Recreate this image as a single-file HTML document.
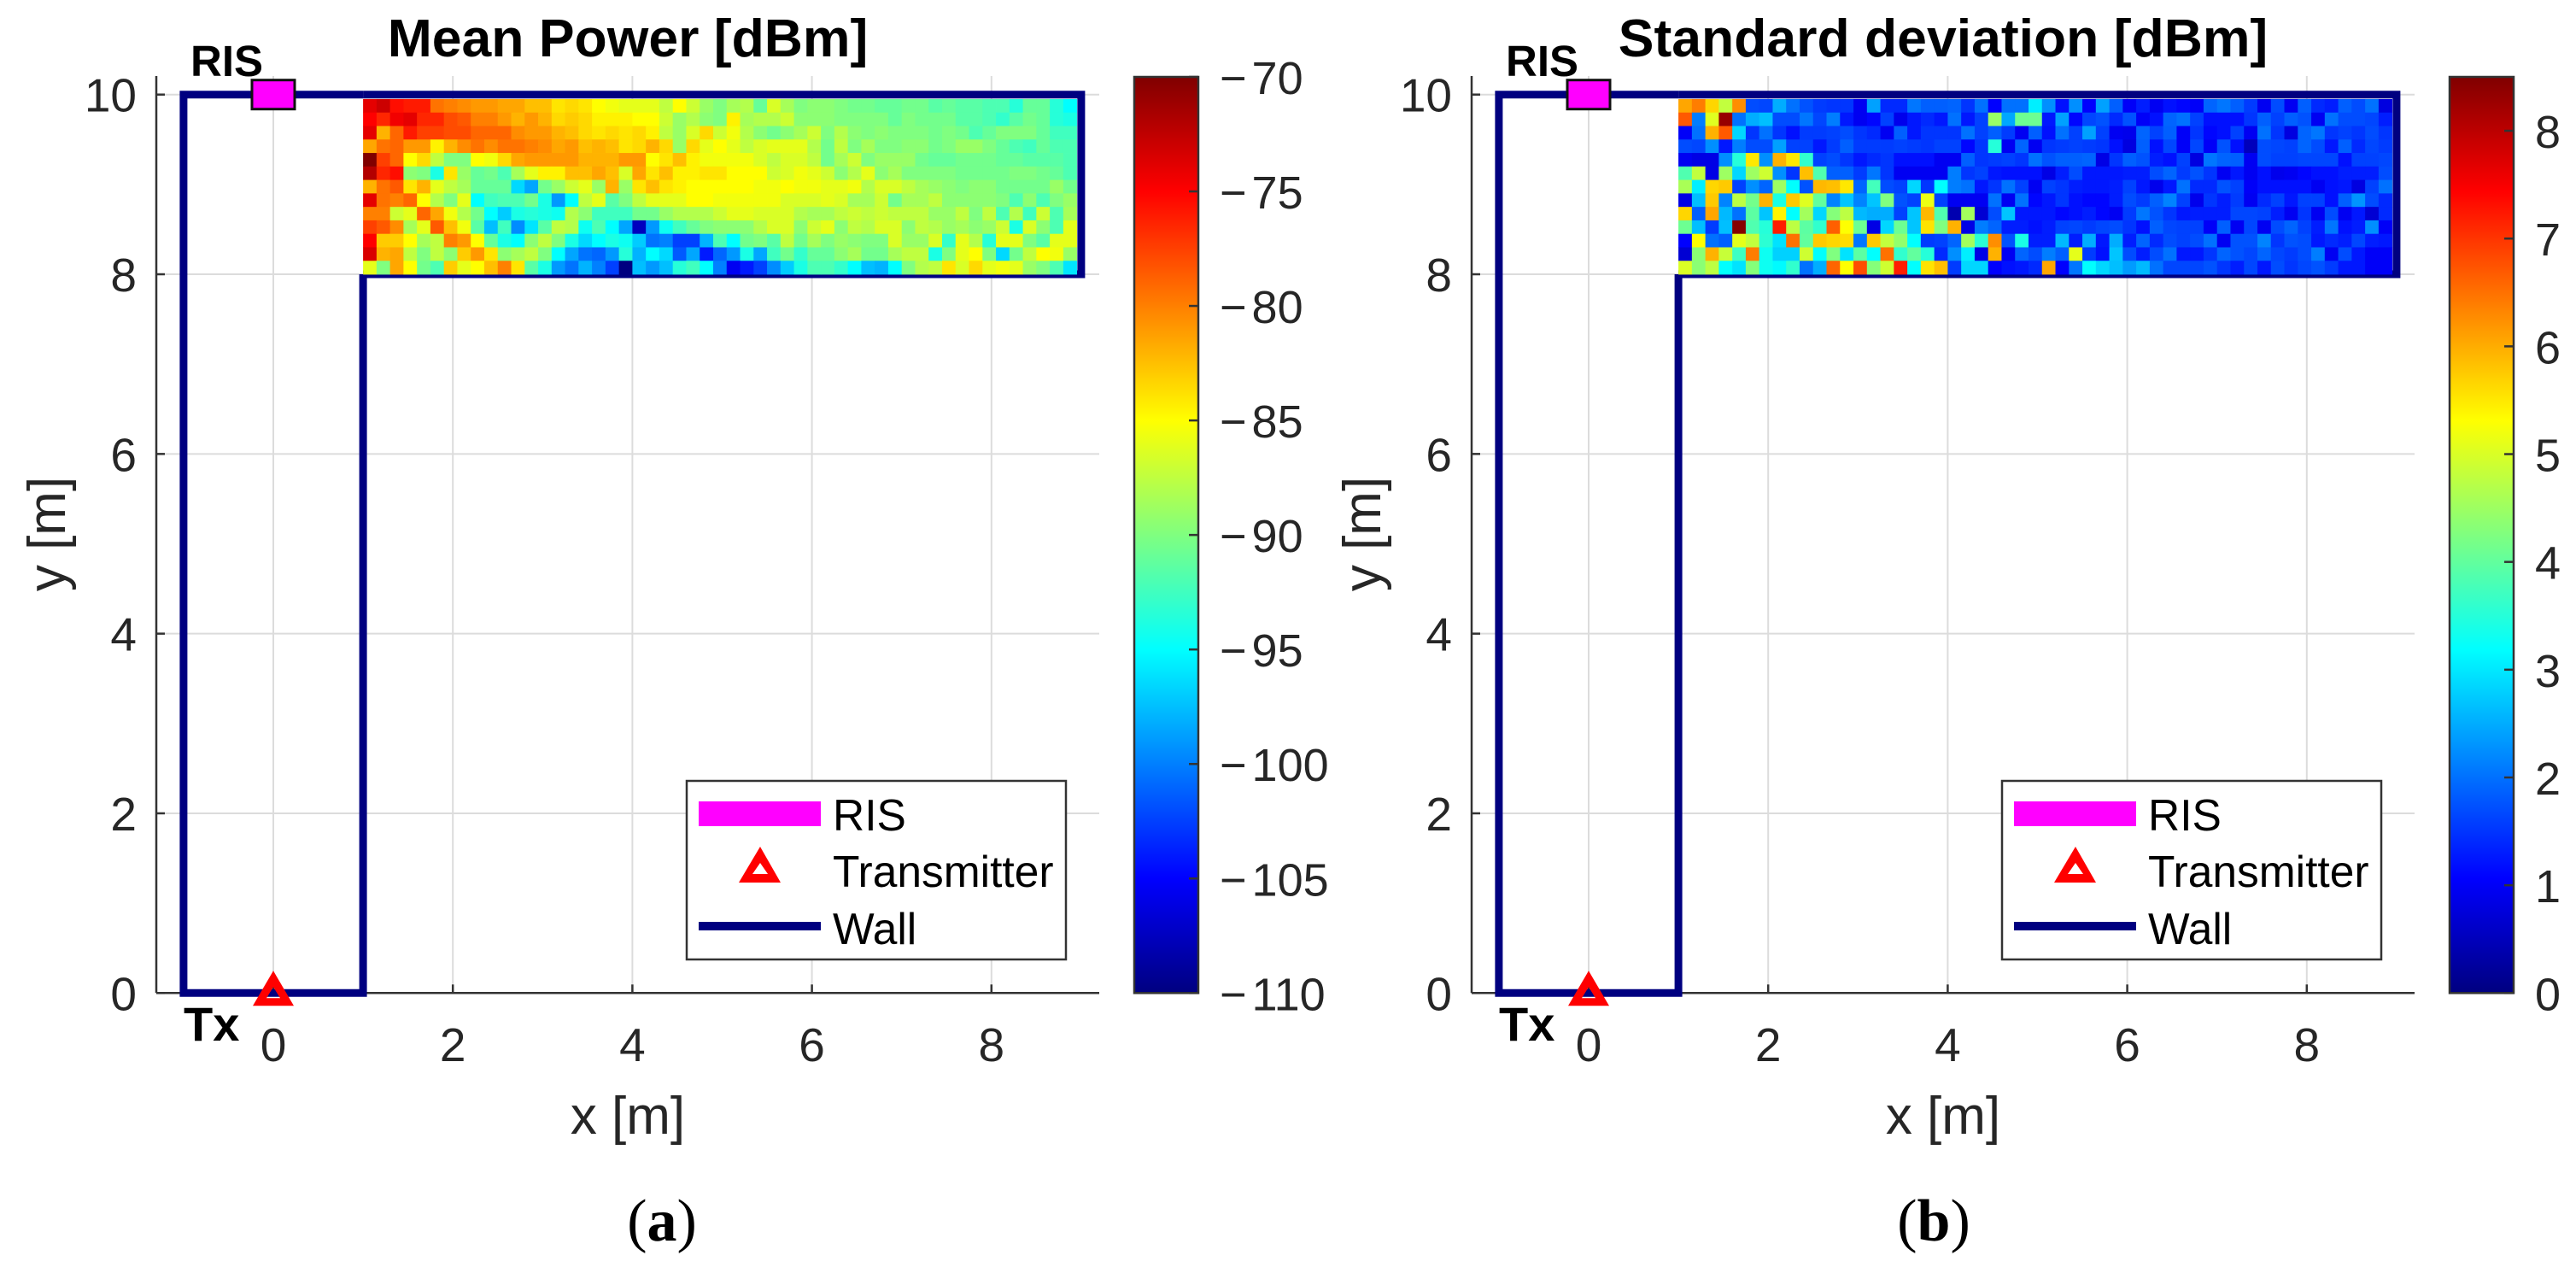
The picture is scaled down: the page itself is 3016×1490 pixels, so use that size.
<!DOCTYPE html>
<html lang="en">
<head>
<meta charset="utf-8">
<title>Mean Power and Standard Deviation Maps</title>
<style>
html,body{margin:0;padding:0;background:#fff;}
svg{display:block;font-family:"Liberation Sans",sans-serif;}
.tick{font-size:55px;fill:#262626;}
.cbtick{font-size:54px;fill:#262626;}
.lab{font-size:62px;fill:#262626;}
.ttl{font-size:62.5px;font-weight:bold;fill:#000;}
.ann{font-weight:bold;fill:#000;}
.leg{font-size:51.5px;fill:#000;}
.cap{font-family:"Liberation Serif",serif;font-size:70px;fill:#000;}
</style>
</head>
<body>
<svg id="fig" xmlns="http://www.w3.org/2000/svg" width="3016" height="1490" viewBox="0 0 3016 1490">
<defs>
<linearGradient id="jetGrad" x1="0" y1="1" x2="0" y2="0">
<stop offset="0" stop-color="#000080"/><stop offset="0.125" stop-color="#0000ff"/><stop offset="0.375" stop-color="#00ffff"/><stop offset="0.625" stop-color="#ffff00"/><stop offset="0.875" stop-color="#ff0000"/><stop offset="1" stop-color="#800000"/>
</linearGradient>
</defs>
<rect x="0" y="0" width="3016" height="1490" fill="#fff"/>
<g id="panelA"></g>
<g id="panelB" transform="translate(1540,0)"></g>

<g>
<text class="ttl" x="735" y="66" text-anchor="middle">Mean Power [dBm]</text>
<text class="lab" x="735" y="1327" text-anchor="middle">x [m]</text>
<text class="lab" transform="translate(76,625) rotate(-90)" text-anchor="middle">y [m]</text>
<text class="ann" font-size="51" x="223" y="89">RIS</text>
<text class="ann" font-size="56" x="215" y="1218">Tx</text>
<g>
<rect x="804" y="914" width="444" height="209" fill="#fff" stroke="#333" stroke-width="2.5"/>
<rect x="818" y="938" width="143" height="29" fill="#ff00ff"/>
<path d="M890 991L914 1033H865ZM890 1010L881 1023H899Z" fill="#ff0000" fill-rule="evenodd"/>
<rect x="818" y="1079" width="143" height="10" fill="#000080"/>
<text class="leg" x="975" y="972">RIS</text>
<text class="leg" x="975" y="1038">Transmitter</text>
<text class="leg" x="975" y="1105">Wall</text>
</g>
<text class="cap" x="775" y="1452" text-anchor="middle">(<tspan font-weight="bold">a</tspan>)</text>
</g>

<g transform="translate(1540,0)">
<text class="ttl" x="735" y="66" text-anchor="middle">Standard deviation [dBm]</text>
<text class="lab" x="735" y="1327" text-anchor="middle">x [m]</text>
<text class="lab" transform="translate(76,625) rotate(-90)" text-anchor="middle">y [m]</text>
<text class="ann" font-size="51" x="223" y="89">RIS</text>
<text class="ann" font-size="56" x="215" y="1218">Tx</text>
<g>
<rect x="804" y="914" width="444" height="209" fill="#fff" stroke="#333" stroke-width="2.5"/>
<rect x="818" y="938" width="143" height="29" fill="#ff00ff"/>
<path d="M890 991L914 1033H865ZM890 1010L881 1023H899Z" fill="#ff0000" fill-rule="evenodd"/>
<rect x="818" y="1079" width="143" height="10" fill="#000080"/>
<text class="leg" x="975" y="972">RIS</text>
<text class="leg" x="975" y="1038">Transmitter</text>
<text class="leg" x="975" y="1105">Wall</text>
</g>
<text class="cap" x="724" y="1452" text-anchor="middle">(<tspan font-weight="bold">b</tspan>)</text>
</g>
</svg>
<script>
const xTicks = [0, 2, 4, 6, 8];
const yTicks = [0, 2, 4, 6, 8, 10];
const meanColorbarTicks = [-70, -75, -80, -85, -90, -95, -100, -105, -110];
const stdColorbarTicks = [0, 1, 2, 3, 4, 5, 6, 7, 8];
const meanColorRange = [-110, -70];
const stdColorRange = [0, 8.5];
const wallX = [1, 1, -1, -1, 1];
const wallY = [8, 0, 0, 10, 10];
const heatmapX0 = 1;
const heatmapY0 = 8;
const cellStep = 0.15;

const meanPowerRows = [
[-74,-73,-75.5,-76,-76,-79.5,-80,-80.5,-81,-81,-81.5,-81.5,-82.5,-82.5,-84,-83.5,-84,-85,-85.5,-86,-86,-86,-87.5,-85,-87,-89,-90,-88.5,-88,-91,-86.5,-88.5,-90,-89.5,-89.5,-90,-90.5,-90.5,-91,-91,-90.5,-90.5,-91.5,-91,-91.5,-91.5,-92,-92,-93.5,-91,-91,-93.5,-95],
[-75,-76.5,-74.5,-74,-76.5,-76.5,-78,-78.5,-80,-80,-81,-82,-81,-82,-83.5,-83,-83.5,-84.5,-84.5,-84.5,-85,-85,-87,-89,-88,-89.5,-90,-84.5,-88.5,-88,-88,-87,-89.5,-89.5,-89.5,-90,-90,-90,-90,-91,-90,-90.5,-90.5,-90.5,-91.5,-91.5,-92,-93,-91.5,-90.5,-91,-93.5,-94],
[-74,-82,-79,-76,-77.5,-77.5,-78,-78,-79,-79,-79,-80.5,-81,-81,-82,-82.5,-83.5,-84,-83.5,-84,-83.5,-84.5,-87.5,-89,-86.5,-83.5,-87,-85.5,-88,-89.5,-90.5,-89.5,-88.5,-87,-90,-88,-89.5,-90,-89.5,-90,-90,-90,-90.5,-90,-90.5,-92,-91,-90,-90,-90,-91,-92.5,-92.5],
[-81.5,-79.5,-79,-81,-81,-84.5,-82,-80.5,-79.5,-80.5,-79.5,-79.5,-80,-80.5,-81.5,-81,-82.5,-82,-82.5,-84,-83.5,-82,-83.5,-89,-83.5,-86,-85,-86,-87.5,-86.5,-86,-86,-86,-88,-90.5,-87.5,-90,-88.5,-90,-90,-89.5,-89.5,-90.5,-90,-89,-89,-90,-91,-92,-92.5,-91,-92,-92],
[-70,-77.5,-79,-85,-83.5,-87.5,-90,-90,-85,-85.5,-83.5,-81.5,-81,-81,-81,-81,-82,-82,-82,-81,-81,-85,-84,-82.5,-84.5,-85.5,-85.5,-85.5,-85.5,-86.5,-87.5,-86.5,-86.5,-87.5,-90.5,-88.5,-87,-90,-89,-89,-89,-90.5,-91,-91,-90.5,-90.5,-90.5,-91,-91,-91.5,-91.5,-91.5,-92],
[-72,-76.5,-75.5,-89.5,-90,-94,-84,-89,-91,-90.5,-92,-88.5,-86,-84.5,-84.5,-82.5,-82.5,-81.5,-82.5,-86.5,-81.5,-84,-82.5,-84.5,-84.5,-84,-84,-85,-85,-85,-87,-86.5,-85.5,-86,-87,-89.5,-88,-86,-89.5,-88.5,-90,-90,-90,-90,-90.5,-90.5,-90.5,-90.5,-90,-90,-90.5,-91,-92],
[-82,-79.5,-78.5,-84,-82,-86,-87.5,-88.5,-91,-91,-91,-96.5,-98.5,-90.5,-89,-87,-86,-89,-82,-89,-84,-82.5,-84,-84.5,-85,-85,-85,-85,-85,-85.5,-85.5,-85,-85.5,-85.5,-86,-86,-85.5,-88,-86.5,-86.5,-87.5,-88.5,-89,-89.5,-90,-89.5,-89.5,-90.5,-90.5,-90.5,-90.5,-89,-90.5],
[-74,-79.5,-80,-79,-85,-88,-90,-86,-95,-92.5,-92,-92,-90.5,-94,-99,-95,-87.5,-86,-91.5,-90,-87.5,-86,-86,-86,-85,-85,-85.5,-85.5,-85.5,-85.5,-85.5,-86.5,-86.5,-86.5,-86,-86.5,-88.5,-88.5,-87,-90.5,-88.5,-88.5,-87.5,-89.5,-89.5,-89.5,-89.5,-90,-92,-89.5,-92,-90,-89],
[-80,-80,-87,-86,-79,-81.5,-85.5,-88,-90.5,-95,-97,-94,-93.5,-94,-94.5,-88,-89.5,-92.5,-92.5,-92.5,-90.5,-90.5,-89,-88,-88,-88,-87,-86,-86,-86.5,-86.5,-86.5,-88,-88.5,-88.5,-87.5,-87,-87.5,-87,-87.5,-87.5,-87.5,-89,-89,-87.5,-90,-87.5,-92,-88,-92.5,-87,-92,-88.5],
[-77.5,-78.5,-80.5,-88.5,-86,-78.5,-82.5,-85.5,-91.5,-97.5,-92.5,-99.5,-96,-91.5,-87.5,-88,-94.5,-92,-95,-98.5,-107.5,-99,-94.5,-92.5,-91,-90,-89.5,-89.5,-89.5,-88,-86.5,-86.5,-89.5,-87,-86,-89.5,-87.5,-88,-86.5,-86.5,-89.5,-87.5,-88,-89,-88.5,-89.5,-89,-87,-94,-86.5,-89.5,-92,-86],
[-75,-83,-83,-85,-88.5,-87.5,-80,-81,-85,-91,-94,-95,-89.5,-87.5,-90,-94,-96.5,-95,-94,-94.5,-97,-100.5,-100,-102.5,-102.5,-98,-92,-95,-90.5,-90,-91.5,-87.5,-90.5,-88.5,-90,-89,-89.5,-90,-90,-86.5,-89,-89,-86.5,-93,-86,-88,-93.5,-86,-86,-90,-91.5,-86,-86],
[-73.5,-82,-81.5,-87.5,-90,-87.5,-89.5,-83,-81,-84,-89.5,-88.5,-87.5,-90,-95,-98.5,-100.5,-101,-99,-93.5,-98,-95,-96.5,-101.5,-98.5,-104,-101,-99,-94,-98.5,-92.5,-90.5,-93,-91,-91,-89.5,-88.5,-90.5,-90.5,-88.5,-87.5,-87.5,-94,-90,-86,-85,-90,-96.5,-90.5,-87.5,-85,-85.5,-89],
[-86,-90,-81.5,-85,-90.5,-92,-83,-86,-85,-82.5,-80,-84,-91.5,-94,-99,-100.5,-98,-100,-102.5,-110,-97.5,-99,-97.5,-93.5,-92.5,-95,-100,-105.5,-104,-102.5,-99.5,-97,-94,-92,-92,-93,-95,-97.5,-98,-95,-90,-88,-87.5,-84,-86.5,-83.5,-86,-85.5,-86,-89,-90,-92,-96]
];

const stdDevRows = [
[6.05,6.4,5.65,4.8,6.25,1.7,1.65,2.5,2,1.75,1.55,1.5,1.5,.95,2.4,1.4,1.4,2.05,1.85,1.85,1.9,1.5,2,1.05,2,2,3.05,2.25,1.2,2.25,1.05,2.4,1.85,1,1.3,.95,1.2,1.1,1,1.9,2.05,1.85,1.55,.95,1.7,.95,1.85,1.4,1.3,1.85,1.7,2,.8],
[6.7,2.1,5.05,8.3,2,2.5,2.65,1.7,1.7,2.05,1.65,2.1,1.25,.95,1.1,1.6,.9,1.25,1.4,1.25,2,1.25,1.6,4.45,2.45,4.1,4.1,1.25,2.4,1.1,1.65,1.75,1.4,1.75,1,1.2,1.9,2,1.6,1.2,1.2,1.2,1.5,1.85,1.6,1.85,1.75,.95,2,1.7,1.7,1.65,1.3],
[1,2,5.95,6.7,2.85,1.5,2,1.5,1.2,1.55,1.55,1.6,1.7,1.5,1.4,.95,1.85,1.25,1.5,1.5,1.5,2,1.6,1.85,1.55,.95,1.85,1.2,2,1.6,2.4,1.6,.95,.9,1.9,1.6,1.85,1,1.5,1.1,1.2,1.6,.95,2,1.5,.8,1.9,2.05,1.5,1.6,1.5,1.7,1.5],
[1.7,1.65,2.25,1.25,2.1,1.7,1.7,2.4,1.6,1.6,1.25,1.55,1.85,1.55,1.55,1.55,1.6,1.55,1.5,1.6,1.6,1.1,1.5,3.5,.95,1.9,.95,1.5,1.55,1.6,1.55,1.5,1.2,.8,1.85,1.2,1.65,1,1.65,1,1.75,1.2,.5,1.7,1.65,1.6,1.9,1.7,1.25,1.85,1.4,1.65,1.55],
[.95,.85,.85,2.25,3.5,5.5,2.25,5.95,5.5,3.6,1.6,1.7,1.5,1.25,1.4,1.5,1.2,1.2,1.2,.95,.95,1.85,1.5,1.55,1.6,1.5,2,1.75,1.85,1.85,1.9,.85,1.5,1.85,1.75,1.3,1.2,1.6,.8,2.05,1.9,1.85,.95,1.7,1.6,1.6,1.65,1.65,1.65,1.2,1.6,1.6,1.65],
[3.85,4.8,.85,4.5,2.85,4.5,4.9,2.25,1.5,5.85,3.85,1.85,1.85,1.55,2.05,1.5,.95,.95,.95,.95,2.1,1.5,1.6,1.25,1.2,1.2,1.2,.85,1.3,1.7,1.25,1.25,1.25,1.3,1.3,1.7,1.9,1.55,1.75,1.5,.95,1.25,.95,1.2,.9,.95,1.1,1.2,1.2,1.3,1.3,1.3,1.7],
[4.6,3.05,5.65,5.75,1.6,2.25,1.9,4.5,3.2,1.75,5.9,5.85,5.5,1.9,3.75,1.7,1.6,2.85,1.5,3.2,2.1,2,1.25,1.5,2,1.6,.95,1.6,1.5,1.3,1.25,1.25,1.3,1.6,1.25,.9,1.25,2,1.4,1.4,1.75,1.6,1,1.2,1.2,1.2,1.2,.95,1.2,1.25,.8,1.6,2],
[.85,2.65,5.75,2.15,4.75,4.15,5.95,3.4,5.75,5.05,4,2.15,2.7,2.15,2.7,4.25,1.75,1.6,5.15,1.6,.95,.95,.95,2,.95,2,1.1,1.25,1.5,1.2,1.1,1.1,1.3,1.7,1.55,1.85,2.15,1.6,.9,1.5,1.3,1.55,.95,1.4,1.6,1.25,1.6,1.6,1.2,1.85,2.3,1.7,1.4],
[5.65,1.85,6.05,2.6,2,3.95,2.7,5.4,3.2,4.55,2.85,4.3,4.75,2.6,2.5,2.5,1.6,2.7,5.9,3.85,.4,4.55,.7,1.7,2.7,1.25,1.25,1.25,1.1,1.2,1.3,1.1,.95,1.55,2.05,1.75,1.5,1.25,1.3,1.3,1.3,1.65,1.65,1.6,1.3,.95,1.5,.95,1.7,.95,1.25,.7,1.4],
[4.1,2.65,1.55,2.65,8.45,3.85,3.5,7.2,4.75,3.95,3.6,6.65,5.3,4.1,.85,2.85,4.1,2.7,5.55,4.25,5.95,.85,2.1,1.9,1.3,1.3,1.2,1.3,1.6,1.65,1.55,1.65,1.7,1.5,1.2,1.85,1.65,1.6,1.6,1,1.85,.95,1.65,.95,1.7,1.9,1.6,1.3,2.05,1.2,1.3,2.25,1],
[1.05,5.3,2,1.85,5.1,4.8,3.55,2.95,6.5,4,5.75,5.65,5.6,2.05,5.75,4.8,4.4,3.2,1.55,1.6,1.9,4.55,3.55,6.25,1.75,3.4,1.3,1.3,2.6,1.3,2.5,1.25,2.5,1.3,1.9,1.4,1.7,1.6,1.7,2,.95,1.75,1.75,2.15,1.5,1.75,1.7,1.25,1.4,1.3,1.65,1.3,1.25],
[.7,4.35,5.95,4.85,3.7,6.4,3.3,2.8,2.8,4.9,3.2,4.25,2.95,3.95,3.2,6.5,3.6,4,3.5,1.4,2.25,3.05,.85,5.95,.95,1.9,1.7,2.1,1.85,5.1,1.55,1.2,2.7,1.7,1.3,1.7,2,1.25,1.25,1.5,1.9,1.75,1.65,1.9,1.65,1.55,1.7,2.1,.95,1.7,1.25,1,1],
[5,4.35,4.75,3.2,2.95,4.3,3.3,3.15,3.6,2,2.5,6.6,5.3,6.8,4.3,4.9,7.2,3.2,5.55,5.85,1.55,2.85,2.85,1.05,1.2,1.25,1.4,6.05,1.05,2.05,3.2,2.85,2.65,2.35,2.6,2,1.65,1.65,1.65,1.75,1.5,1.3,1.65,1.25,1.7,1.5,1.65,1.75,1.55,1.25,1.25,1,1]
];

const SVGNS = 'http://www.w3.org/2000/svg';
const PLOT = {left: 183, right: 1287, top: 89, bottom: 1162.3, x0: 320, xUnit: 105.1, yUnit: 105.16};
const CBAR = {left: 1328, right: 1403, top: 90, bottom: 1162.3};

function xPos(v) { return PLOT.x0 + v * PLOT.xUnit; }
function yPos(v) { return PLOT.bottom - v * PLOT.yUnit; }
function clamp01(v) { return Math.max(0, Math.min(1, v)); }
function jet(f) {
  const r = clamp01(Math.min(4 * f - 1.5, -4 * f + 4.5));
  const g = clamp01(Math.min(4 * f - 0.5, -4 * f + 3.5));
  const b = clamp01(Math.min(4 * f + 0.5, -4 * f + 2.5));
  return 'rgb(' + Math.round(r * 255) + ',' + Math.round(g * 255) + ',' + Math.round(b * 255) + ')';
}
function make(tag, parent, attrs) {
  const el = document.createElementNS(SVGNS, tag);
  for (const k in attrs) el.setAttribute(k, attrs[k]);
  parent.appendChild(el);
  return el;
}

function drawPanel(group, rows, range, cbTicks) {
  // grid lines
  xTicks.forEach(function (t) {
    const line = make('line', group, {x1: xPos(t), x2: xPos(t), y1: PLOT.top, y2: PLOT.bottom, stroke: '#dcdcdc', 'stroke-width': 2});
    
    
  });
  yTicks.forEach(function (t) {
    const line = make('line', group, {x1: PLOT.left, x2: PLOT.right, y1: yPos(t), y2: yPos(t), stroke: '#dcdcdc', 'stroke-width': 2});
    
    
  });

  // axes
  const axisX = make('line', group, {x1: PLOT.left, x2: PLOT.right, y1: PLOT.bottom, y2: PLOT.bottom, stroke: '#333', 'stroke-width': 2.5});
  
  
  const axisY = make('line', group, {x1: PLOT.left, x2: PLOT.left, y1: PLOT.top, y2: PLOT.bottom, stroke: '#333', 'stroke-width': 2.5});
  
  

  // ticks + labels
  xTicks.forEach(function (t) {
    const mark = make('line', group, {x1: xPos(t), x2: xPos(t), y1: PLOT.bottom, y2: PLOT.bottom - 10, stroke: '#333', 'stroke-width': 2.5});
    
    
    const label = make('text', group, {x: xPos(t), y: 1242, 'text-anchor': 'middle', 'class': 'tick'});
    
    
    label.textContent = String(t);
  });
  yTicks.forEach(function (t) {
    const mark = make('line', group, {x1: PLOT.left, x2: PLOT.left + 10, y1: yPos(t), y2: yPos(t), stroke: '#333', 'stroke-width': 2.5});
    
    
    const label = make('text', group, {x: 160, y: yPos(t) + 20, 'text-anchor': 'end', 'class': 'tick'});
    
    
    label.textContent = String(t);
  });

  // walls
  const wallPts = wallX.map(function (x, i) { return xPos(x) + ',' + yPos(wallY[i]); }).join(' ');
  const walls = make('polyline', group, {points: wallPts, fill: 'none', stroke: '#000080', 'stroke-width': 9, 'stroke-linejoin': 'miter'});
  
  
  const corridor = make('polyline', group, {
    points: xPos(1) + ',' + yPos(10) + ' ' + xPos(9) + ',' + yPos(10) + ' ' + xPos(9) + ',' + yPos(8) + ' ' + xPos(1) + ',' + yPos(8),
    fill: 'none', stroke: '#000080', 'stroke-width': 9
  });
  
  

  // heatmap
  const nRows = rows.length;
  rows.forEach(function (row, r) {
    row.forEach(function (v, c) {
      const xa = xPos(heatmapX0 + c * cellStep);
      const xb = xPos(heatmapX0 + (c + 1) * cellStep);
      const ya = yPos(heatmapY0 + (nRows - r) * cellStep);
      const yb = yPos(heatmapY0 + (nRows - r - 1) * cellStep);
      const cell = make('rect', group, {x: xa, y: ya, width: xb - xa + 0.4, height: yb - ya + 0.4,
        fill: jet((v - range[0]) / (range[1] - range[0]))});
      
      
    });
  });

  // RIS marker
  const ris = make('rect', group, {x: xPos(0) - 25, y: yPos(10) - 17, width: 50, height: 34, fill: '#ff00ff', stroke: '#111', 'stroke-width': 3});
  
  

  // transmitter marker
  const tx = xPos(0), ty = yPos(0);
  const tri = make('path', group, {
    d: 'M' + tx + ' ' + (ty - 26) + 'L' + (tx + 24) + ' ' + (ty + 15) + 'H' + (tx - 24) + 'Z' +
       'M' + tx + ' ' + (ty - 7) + 'L' + (tx - 8) + ' ' + (ty + 6) + 'H' + (tx + 8) + 'Z',
    fill: '#ff0000', 'fill-rule': 'evenodd'
  });
  
  

  // colorbar
  const bar = make('rect', group, {x: CBAR.left, y: CBAR.top, width: CBAR.right - CBAR.left, height: CBAR.bottom - CBAR.top, fill: 'url(#jetGrad)', stroke: '#333', 'stroke-width': 2.5});
  
  
  cbTicks.forEach(function (t) {
    const y = CBAR.bottom - (t - range[0]) / (range[1] - range[0]) * (CBAR.bottom - CBAR.top);
    const mark = make('line', group, {x1: CBAR.right - 11, x2: CBAR.right, y1: y, y2: y, stroke: '#333', 'stroke-width': 2.5});
    
    
    const label = make('text', group, {x: 1428, y: y + 20, 'class': 'cbtick'});
    
    
    if (t < 0) {
      label.textContent = '\u2212';
      const digits = make('tspan', label, {dx: 6});
      digits.textContent = String(-t);
    } else {
      label.textContent = String(t);
    }
  });
}

drawPanel(document.getElementById('panelA'), meanPowerRows, meanColorRange, meanColorbarTicks);
drawPanel(document.getElementById('panelB'), stdDevRows, stdColorRange, stdColorbarTicks);
</script>
</body>
</html>
